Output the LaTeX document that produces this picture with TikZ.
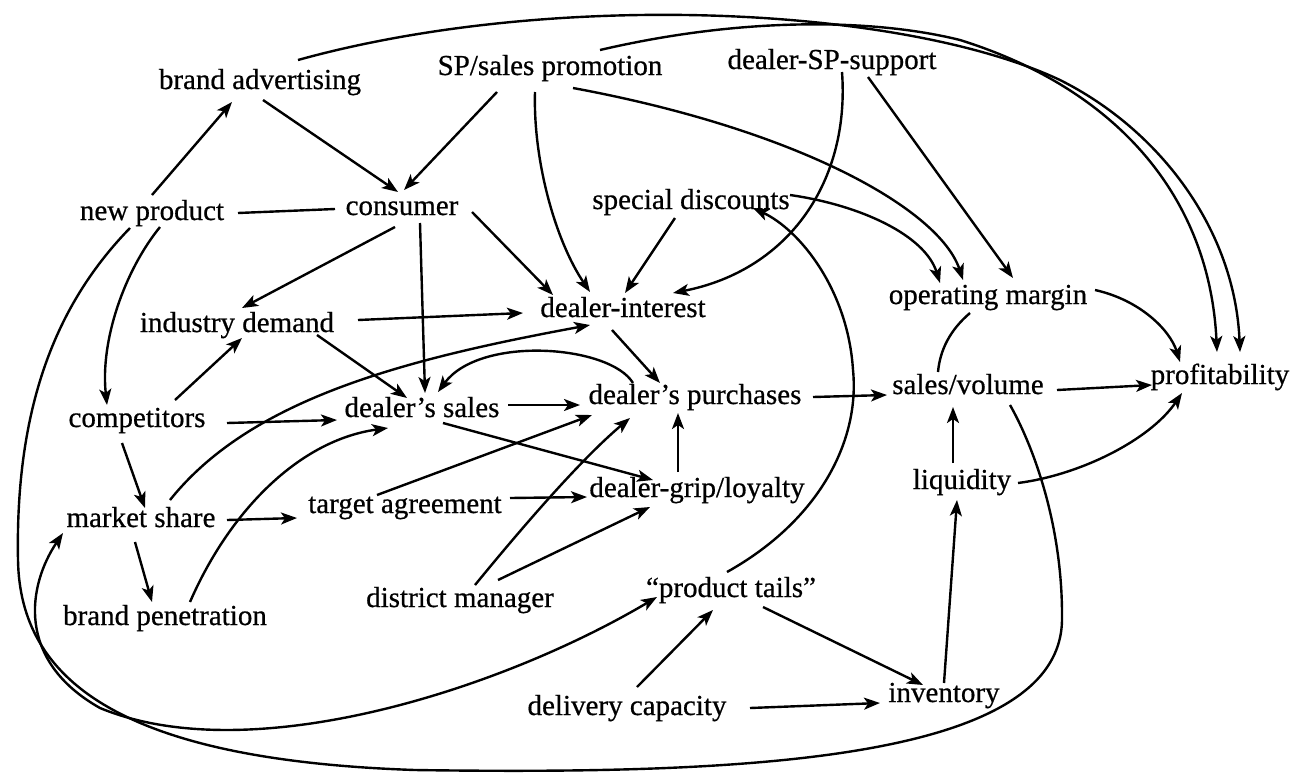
\documentclass[tikz,border=0pt]{standalone}
\usepackage{fontspec}
\setmainfont{Liberation Serif}[FakeBold=0.6]
\usetikzlibrary{arrows.meta,calc}

\begin{document}
\begin{tikzpicture}[x=1pt, y=-1pt, line width=2.4pt,
  lbl/.style={inner sep=0pt, text height=20pt, text depth=6pt,
              font=\fontsize{29}{34}\selectfont},
  arr/.style={-{Stealth[length=16pt,width=12pt,inset=4pt]}},
  biarr/.style={{Stealth[length=16pt,width=12pt,inset=4pt]}-{Stealth[length=16pt,width=12pt,inset=4pt]}}]

\fill[white] (0,0) rectangle (1293,780);
\useasboundingbox (0,0) rectangle (1293,780);

% variables
\node[lbl] (ba)   at (260,82)  {brand advertising};
\node[lbl] (sp)   at (550,68)  {SP/sales promotion};
\node[lbl] (dsp)  at (832,62)  {dealer-SP-support};
\node[lbl] (np)   at (152,213) {new product};
\node[lbl] (con)  at (402,208) {consumer};
\node[lbl] (sd)   at (691,202) {special discounts};
\node[lbl] (id)   at (237,325) {industry demand};
\node[lbl] (di)   at (623,310) {dealer-interest};
\node[lbl] (om)   at (988,297) {operating margin};
\node[lbl] (comp) at (137,420) {competitors};
\node[lbl] (ds)   at (422,410) {dealer's sales};
\node[lbl] (dp)   at (695,397) {dealer's purchases};
\node[lbl] (sv)   at (968,387) {sales/volume};
\node[lbl] (prof) at (1220,377) {profitability};
\node[lbl] (ms)   at (141,520) {market share};
\node[lbl] (ta)   at (405,506) {target agreement};
\node[lbl] (dg)   at (697,490) {dealer-grip/loyalty};
\node[lbl] (liq)  at (962,482) {liquidity};
\node[lbl] (bp)   at (165,618) {brand penetration};
\node[lbl] (dm)   at (460,600) {district manager};
\node[lbl] (pt)   at (731,590) {“product tails”};
\node[lbl] (dc)   at (627,708) {delivery capacity};
\node[lbl] (inv)  at (944,695) {inventory};

% upper left
\draw[arr] ($(np)+(0,-18)$) -- ($(ba)+(-28,20)$);
\draw[arr] ($(ba)+(3,18)$) -- ($(con)+(-4,-16)$);
\draw[arr] ($(sp)+(-53,24)$) -- ($(con)+(2,-18)$);
\draw ($(con)+(-67,1)$) -- ($(np)+(86,0)$);
\draw[arr] ($(np)+(8,14)$) .. controls (125,270) and (100,340) .. ($(comp)+(-30,-15)$);

% outer loop round the left and bottom
\draw ($(np)+(-22,15)$) .. controls (60,300) and (15,400) .. (18,560)
  .. controls (20,680) and (120,760) .. (415,770)
  .. controls (750,775) and (1060,760) .. (1062,620)
  .. controls (1063,520) and (1030,440) .. ($(sv)+(42,18)$);

% inner loop between market share and product tails
\draw[biarr] ($(ms)+(-78,13)$) .. controls (28,585) and (15,660) .. (100,708)
  .. controls (250,770) and (500,690) .. ($(pt)+(-74,7)$);

% competitors and consumer
\draw[arr] ($(comp)+(38,-20)$) -- ($(id)+(5,13)$);
\draw[arr] ($(comp)+(-15,23)$) -- ($(ms)+(4,-12)$);
\draw[arr] ($(comp)+(90,3)$) -- ($(ds)+(-85,10)$);
\draw[arr] ($(con)+(-7,19)$) -- ($(id)+(5,-17)$);
\draw[arr] ($(con)+(18,15)$) -- ($(ds)+(3,-17)$);
\draw[arr] ($(con)+(70,4)$) -- ($(di)+(-70,-15)$);

% promotion and discounts
\draw[arr] ($(sp)+(-15,24)$) .. controls (533,160) and (555,240) .. ($(di)+(-33,-18)$);
\draw[arr] ($(sd)+(-16,16)$) -- ($(di)+(2,-17)$);
\draw[arr] ($(dsp)+(10,10)$) .. controls (850,180) and (790,270) .. ($(di)+(50,-17)$);
\draw[arr] ($(sp)+(23,20)$) .. controls (800,130) and (940,210) .. ($(om)+(-25,-17)$);
\draw[arr] ($(sd)+(99,-7)$) .. controls (860,205) and (925,235) .. ($(om)+(-48,-14)$);
\draw[arr] ($(dsp)+(36,15)$) -- ($(om)+(25,-19)$);
\draw[arr] ($(ba)+(38,-22)$) .. controls (550,-10) and (900,5) .. (1060,80)
  .. controls (1160,130) and (1235,230) .. ($(prof)+(20,-25)$);
\draw[arr] ($(sp)+(50,-18)$) .. controls (750,15) and (880,20) .. (960,40)
  .. controls (1120,90) and (1210,200) .. ($(prof)+(-3,-25)$);

% dealer block
\draw[arr] ($(id)+(121,-5)$) -- ($(di)+(-100,3)$);
\draw[arr] ($(id)+(80,10)$) -- ($(ds)+(-15,-12)$);
\draw[arr] ($(di)+(-11,20)$) -- ($(dp)+(-35,-14)$);
\draw[arr] ($(dp)+(-62,-14)$) .. controls (610,345) and (480,335) .. ($(ds)+(16,-18)$);
\draw[arr] ($(ds)+(86,-5)$) -- ($(dp)+(-115,8)$);
\draw[arr] ($(ds)+(21,13)$) -- ($(dg)+(-44,-10)$);
\draw[arr] ($(ms)+(29,-20)$) .. controls (250,400) and (400,360) .. ($(di)+(-33,15)$);
\draw[arr] ($(bp)+(25,-16)$) .. controls (230,510) and (300,440) .. ($(ds)+(-34,18)$);
\draw[arr] ($(ms)+(86,0)$) -- ($(ta)+(-108,12)$);
\draw[arr] ($(ms)+(-6,22)$) -- ($(bp)+(-13,-16)$);
\draw[arr] ($(ta)+(-28,-11)$) -- ($(dp)+(-103,18)$);
\draw[arr] ($(ta)+(105,-8)$) -- ($(dg)+(-110,7)$);
\draw[arr] ($(dm)+(15,-15)$) .. controls (520,530) and (580,460) .. ($(dp)+(-65,21)$);
\draw[arr] ($(dm)+(38,-20)$) -- ($(dg)+(-47,17)$);
\draw[arr] ($(dg)+(-19,-18)$) -- ($(dp)+(-17,16)$);

% right side
\draw[arr] ($(dp)+(118,0)$) -- ($(sv)+(-81,8)$);
\draw ($(om)+(-18,16)$) .. controls (950,330) and (940,350) .. ($(sv)+(-30,-15)$);
\draw[arr] ($(sv)+(89,3)$) -- ($(prof)+(-68,8)$);
\draw[arr] ($(om)+(107,-7)$) .. controls (1140,300) and (1170,330) .. ($(prof)+(-40,-15)$);
\draw[arr] ($(liq)+(56,1)$) .. controls (1080,475) and (1150,440) .. ($(prof)+(-38,16)$);
\draw[arr] ($(liq)+(-9,-19)$) -- ($(sv)+(-15,20)$);
\draw[arr] ($(inv)+(0,-12)$) -- ($(liq)+(-5,18)$);

% lower right
\draw[arr] ($(pt)+(32,17)$) -- ($(inv)+(-21,-10)$);
\draw[arr] ($(dc)+(10,-21)$) -- ($(pt)+(-18,20)$);
\draw[arr] ($(dc)+(123,0)$) -- ($(inv)+(-64,8)$);
\draw[arr] ($(pt)+(-4,-18)$) .. controls (820,520) and (860,440) .. (853,370)
  .. controls (848,290) and (800,230) .. ($(sd)+(62,6)$);

\end{tikzpicture}
\end{document}
